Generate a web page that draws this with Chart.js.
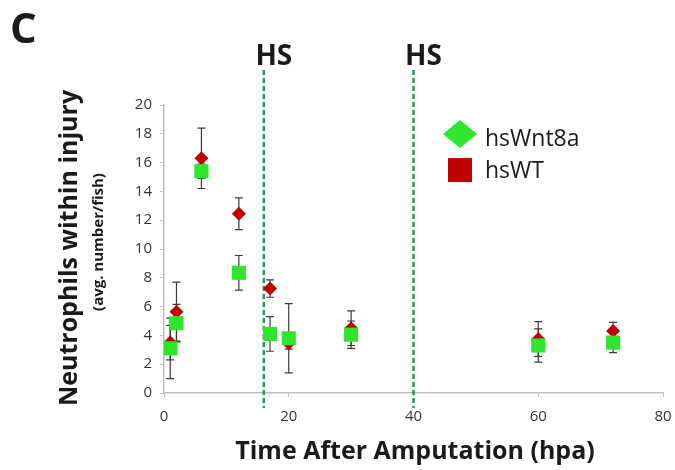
<!DOCTYPE html>
<html>
<head>
<meta charset="utf-8">
<script src="https://cdn.jsdelivr.net/npm/chart.js@4/dist/chart.umd.min.js"></script>
<style>
  html, body { margin: 0; padding: 0; background: #fff; }
  #wrap { width: 675px; height: 470px; position: relative; }
</style>
</head>
<body>
<div id="wrap"><canvas id="chart" width="675" height="470"></canvas></div>
<script>
// hours post amputation where fish were counted
const hours = [1, 2, 6, 12, 17, 20, 30, 60, 72];

// hsWnt8a (green squares)
const wnt8aMean = [3.1, 4.85, 15.4, 8.35, 4.1, 3.8, 4.05, 3.3, 3.5];
const wnt8aErr  = [2.1, 1.3, 0.5, 1.2, 1.2, 2.4, 0.95, 1.15, 0.7];

// hsWT (red diamonds)
const wtMean = [3.5, 5.65, 16.3, 12.45, 7.25, 3.45, 4.5, 3.75, 4.3];
const wtErr  = [1.2, 2.05, 2.1, 1.1, 0.6, 0.4, 1.2, 1.2, 0.6];

// heat shock times
const hsTimes = [16, 40];
const hsLabel = 'HS';

const greenCol = '#2ee62e';
const redCol = '#c00000';
const hsCol = '#1e9e50';
const axisCol = '#bfbfbf';
const textCol = '#1a1a1a';

const toPoints = (ys) => hours.map((h, i) => ({ x: h, y: ys[i] }));

const errorBars = {
  id: 'errorBars',
  beforeDatasetsDraw(chart) {
    const { ctx, scales: { x, y } } = chart;
    ctx.save();
    ctx.strokeStyle = '#3a3a3a';
    ctx.lineWidth = 1.2;
    chart.data.datasets.forEach(ds => {
      ds.data.forEach((p, i) => {
        const px = x.getPixelForValue(p.x);
        const top = y.getPixelForValue(p.y + ds.errors[i]);
        const bot = y.getPixelForValue(p.y - ds.errors[i]);
        ctx.beginPath();
        ctx.moveTo(px, top); ctx.lineTo(px, bot);
        ctx.moveTo(px - 4, top); ctx.lineTo(px + 4, top);
        ctx.moveTo(px - 4, bot); ctx.lineTo(px + 4, bot);
        ctx.stroke();
      });
    });
    ctx.restore();
  }
};

const hsLines = {
  id: 'hsLines',
  beforeDatasetsDraw(chart) {
    const { ctx, scales: { x } } = chart;
    ctx.save();
    ctx.strokeStyle = hsCol;
    ctx.lineWidth = 2.5;
    ctx.setLineDash([5, 3]);
    hsTimes.forEach(t => {
      const px = x.getPixelForValue(t);
      ctx.beginPath();
      ctx.moveTo(px, 70);
      ctx.lineTo(px, 408);
      ctx.stroke();
    });
    ctx.setLineDash([]);
    ctx.fillStyle = textCol;
    ctx.font = 'bold 28px "Open Sans"';
    ctx.textAlign = 'center';
    ctx.textBaseline = 'alphabetic';
    hsTimes.forEach(t => {
      ctx.fillText(hsLabel, x.getPixelForValue(t) + 10, 65);
    });
    ctx.restore();
  }
};

const extras = {
  id: 'extras',
  afterDraw(chart) {
    const { ctx } = chart;
    ctx.save();
    ctx.fillStyle = textCol;
    ctx.textBaseline = 'alphabetic';

    // panel letter
    ctx.font = 'bold 42px "Open Sans"';
    ctx.textAlign = 'left';
    ctx.fillText('C', 10, 43);

    // x title
    ctx.font = 'bold 25px "Open Sans"';
    ctx.textAlign = 'center';
    ctx.fillText('Time After Amputation (hpa)', 415, 459);

    // y title + subtitle
    ctx.save();
    ctx.translate(77, 248);
    ctx.rotate(-Math.PI / 2);
    ctx.fillText('Neutrophils within injury', 0, 0);
    ctx.restore();
    ctx.save();
    ctx.translate(103, 242);
    ctx.rotate(-Math.PI / 2);
    ctx.font = 'bold 15px "Open Sans"';
    ctx.fillText('(avg. number/fish)', 0, 0);
    ctx.restore();

    // legend (markers as in the original figure)
    const ds = chart.data.datasets;
    ctx.fillStyle = ds[0].backgroundColor;
    ctx.beginPath();
    ctx.moveTo(460, 120); ctx.lineTo(477, 134); ctx.lineTo(460, 148); ctx.lineTo(443, 134);
    ctx.closePath();
    ctx.fill();
    ctx.fillStyle = ds[1].backgroundColor;
    ctx.fillRect(448, 158, 24, 24);
    ctx.fillStyle = textCol;
    ctx.font = '23px "Open Sans"';
    ctx.textAlign = 'left';
    ctx.fillText(ds[0].label, 485, 146);
    ctx.fillText(ds[1].label, 485, 178);
    ctx.restore();
  }
};

new Chart(document.getElementById('chart'), {
  type: 'scatter',
  data: {
    datasets: [
      {
        label: 'hsWnt8a',
        data: toPoints(wnt8aMean),
        errors: wnt8aErr,
        pointStyle: 'rect',
        pointRadius: 10,
        backgroundColor: greenCol,
        borderColor: greenCol,
        borderWidth: 0
      },
      {
        label: 'hsWT',
        data: toPoints(wtMean),
        errors: wtErr,
        pointStyle: 'rectRot',
        pointRadius: 7,
        backgroundColor: redCol,
        borderColor: redCol,
        borderWidth: 0
      }
    ]
  },
  options: {
    responsive: false,
    animation: false,
    layout: { padding: { left: 0, right: 12, top: 105, bottom: 0 } },
    plugins: {
      legend: { display: false },
      tooltip: { enabled: false }
    },
    scales: {
      x: {
        type: 'linear',
        min: 0, max: 80,
        afterFit: s => { s.height = 77; s.paddingRight = 0; s.paddingLeft = 0; },
        ticks: { stepSize: 20, color: '#333', padding: 11, font: { family: 'Open Sans', size: 15 } },
        grid: { display: true, drawOnChartArea: false, tickLength: 4, color: axisCol },
        border: { color: axisCol, width: 1.5 }
      },
      y: {
        min: 0, max: 20,
        afterFit: s => { s.width = 164; s.paddingTop = 0; s.paddingBottom = 0; },
        ticks: { stepSize: 2, color: '#333', padding: 8, font: { family: 'Open Sans', size: 15 } },
        grid: { display: true, drawOnChartArea: false, tickLength: 4, color: axisCol },
        border: { color: axisCol, width: 1.5 }
      }
    }
  },
  plugins: [hsLines, errorBars, extras]
});
</script>
</body>
</html>
